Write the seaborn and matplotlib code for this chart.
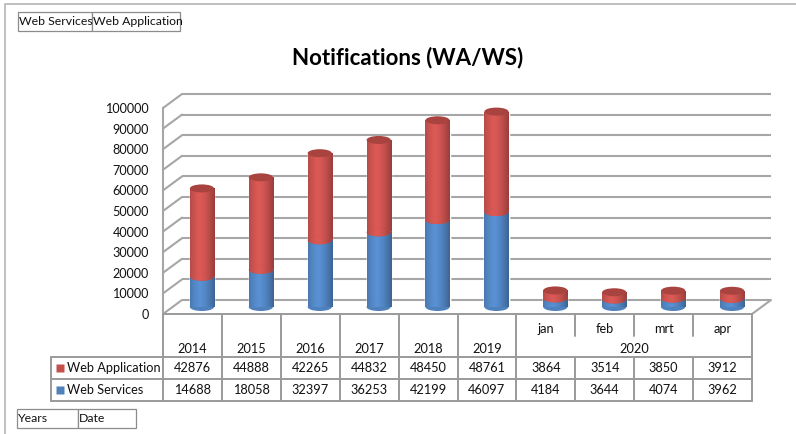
import numpy as np
import pandas as pd
import seaborn as sns
import matplotlib.pyplot as plt
from matplotlib.colors import to_rgb
from matplotlib.lines import Line2D
from matplotlib.patches import ConnectionPatch, Ellipse, Rectangle

# Data
periods = ["2014", "2015", "2016", "2017", "2018", "2019", "jan", "feb", "mrt", "apr"]
year_labels = ["2014", "2015", "2016", "2017", "2018", "2019"]
month_labels = ["jan", "feb", "mrt", "apr"]
web_application = [42876, 44888, 42265, 44832, 48450, 48761, 3864, 3514, 3850, 3912]
web_services = [14688, 18058, 32397, 36253, 42199, 46097, 4184, 3644, 4074, 3962]
y_ticks = list(range(0, 100001, 10000))

RED = "#C4504C"
BLUE = "#4F81BD"
RED_TOP = "#A9433F"
GRID = "#A6A6A6"
TABLE_LINE = "#9A9A9A"

sns.set_style("white")
plt.rcParams["font.family"] = ["Lato", "DejaVu Sans"]

W, H = 796, 434
fig = plt.figure(figsize=(W / 100, H / 100), dpi=100)


def box(x0, y0, x1, y1):
    # pixel box (from top-left) -> figure fraction
    return [x0 / W, 1 - y1 / H, (x1 - x0) / W, (y1 - y0) / H]


# three planes of the fake 3D plot area: back wall, front edge, middle (bars)
ax_back = fig.add_axes(box(182, 94, 771, 300), zorder=0)
ax_front = fig.add_axes(box(163, 108, 752, 314), zorder=1)
ax_mid = fig.add_axes(box(172.5, 101, 761.5, 307), zorder=2)
ax_tab = fig.add_axes(box(163, 314, 752, 401), zorder=3)

# back wall gridlines
ax_back.hlines(y_ticks, -0.5, 9.5, color=GRID, lw=1.5, clip_on=False)
ax_back.set_xlim(-0.5, 9.5)
ax_back.set_ylim(0, 100000)
ax_back.axis("off")

# front value axis
ax_front.set_xlim(-0.5, 9.5)
ax_front.set_ylim(0, 100000)
ax_front.patch.set_alpha(0)
for side in ["top", "right", "bottom"]:
    ax_front.spines[side].set_visible(False)
ax_front.spines["left"].set_color(GRID)
ax_front.spines["left"].set_linewidth(1.5)
ax_front.set_xticks([])
ax_front.set_yticks(y_ticks)
ax_front.set_yticklabels([str(v) for v in y_ticks])
ax_front.tick_params(axis="y", length=3, width=1.2, color=GRID, pad=7,
                     labelsize=9.1, labelcolor="#111111")

# left wall and right floor edge
for v in y_ticks:
    fig.add_artist(ConnectionPatch(xyA=(-0.5, v), coordsA=ax_front.transData,
                                   xyB=(-0.5, v), coordsB=ax_back.transData,
                                   color=GRID, lw=1.5))
fig.add_artist(ConnectionPatch(xyA=(9.5, 0), coordsA=ax_front.transData,
                               xyB=(9.5, 0), coordsB=ax_back.transData,
                               color=GRID, lw=1.5))

# cylinders
df = pd.DataFrame({"period": periods,
                   "total": [a + s for a, s in zip(web_application, web_services)],
                   "ws": web_services})
bar_w = 0.41
sns.barplot(data=df, x="period", y="total", color=RED, saturation=1,
            width=bar_w, ax=ax_mid, zorder=1)
sns.barplot(data=df, x="period", y="ws", color=BLUE, saturation=1,
            width=bar_w, ax=ax_mid, zorder=2)
red_bars = ax_mid.patches[:10]
blue_bars = ax_mid.patches[10:20]

ell_h = 8 * 100000 / 206  # ellipse height of ~8px in data units


def shade(patch, base, x0, x1, y0, y1, z):
    t = np.linspace(0, 1, 64)
    f = 1.12 - 0.75 * np.abs(t - 0.4) ** 1.5
    rgb = np.clip(np.array(to_rgb(base))[None, :] * f[:, None], 0, 1)[None, :, :]
    im = ax_mid.imshow(rgb, extent=(x0, x1, y0, y1), aspect="auto",
                       zorder=z, interpolation="bilinear")
    im.set_clip_path(patch)


for rb, bb, ws, tot in zip(red_bars, blue_bars, df["ws"], df["total"]):
    x0 = rb.get_x()
    x1 = x0 + rb.get_width()
    xc = (x0 + x1) / 2
    w = rb.get_width()
    rb.set_zorder(1)
    bb.set_zorder(2)
    shade(rb, RED, x0, x1, 0, tot, 1.1)
    shade(bb, BLUE, x0, x1, 0, ws, 2.1)
    bottom = Ellipse((xc, 0), w, ell_h, fc=BLUE, ec="none", zorder=2.2, clip_on=False)
    ax_mid.add_patch(bottom)
    shade(bottom, BLUE, x0, x1, -ell_h, ell_h, 2.3)
    seam = Ellipse((xc, ws), w, ell_h, fc=RED, ec="none", zorder=3)
    ax_mid.add_patch(seam)
    shade(seam, RED, x0, x1, ws - ell_h, ws + ell_h, 3.1)
    ax_mid.add_patch(Ellipse((xc, tot), w, ell_h, fc=RED_TOP, ec="none",
                             zorder=4, clip_on=False))

ax_mid.set_xlim(-0.5, 9.5)
ax_mid.set_ylim(0, 100000)
ax_mid.axis("off")

# data table below the plot
px = 1 / 58.9
leg_x = -0.5 - 112 * px
ax_tab.set_xlim(-0.5, 9.5)
ax_tab.set_ylim(87, 0)
ax_tab.axis("off")
kw = dict(color=TABLE_LINE, lw=1.4, clip_on=False)
ax_tab.plot([-0.5, 9.5], [0, 0], **kw)
for y in [43, 65, 87]:
    ax_tab.plot([leg_x, 9.5], [y, y], **kw)
ax_tab.plot([leg_x, leg_x], [43, 87], **kw)
for k in range(len(periods) + 1):
    xb = k - 0.5
    if 7 <= k <= 9:
        ax_tab.plot([xb, xb], [0, 22], **kw)
        ax_tab.plot([xb, xb], [43, 87], **kw)
    else:
        ax_tab.plot([xb, xb], [0, 87], **kw)

tkw = dict(ha="center", va="center", fontsize=9.2, color="#111111")
for i, lab in enumerate(year_labels):
    ax_tab.text(i, 35, lab, **tkw)
for j, lab in enumerate(month_labels):
    ax_tab.text(len(year_labels) + j, 15, lab, **tkw)
ax_tab.text(len(year_labels) + (len(month_labels) - 1) / 2, 35, "2020", **tkw)
for i, (a, s) in enumerate(zip(web_application, web_services)):
    ax_tab.text(i, 54, str(a), **tkw)
    ax_tab.text(i, 76, str(s), **tkw)

for y, name, col in [(54, "Web Application", RED), (76, "Web Services", BLUE)]:
    ax_tab.plot([-0.5 - 103 * px], [y], marker="s", ms=5.5, color=col,
                mec="none", clip_on=False)
    ax_tab.text(-0.5 - 96 * px, y, name, ha="left", va="center",
                fontsize=9.2, color="#111111")

# title
fig.text(408 / W, 1 - 58 / H, "Notifications (WA/WS)", ha="center", va="center",
         fontsize=16, fontweight="bold", color="#000000")

# outer frame
fig.add_artist(Line2D([5 / W, 5 / W, 1], [0, 1 - 4 / H, 1 - 4 / H],
                      color="#B5B5B5", lw=1.2))

# field buttons
for x0, x1, y0, y1, lab in [(18, 92, 12, 31, "Web Services"),
                            (92, 180, 12, 31, "Web Application"),
                            (17, 78, 409, 428, "Years"),
                            (78, 136, 409, 428, "Date")]:
    fig.add_artist(Rectangle((x0 / W, 1 - y1 / H), (x1 - x0) / W, (y1 - y0) / H,
                             transform=fig.transFigure, fc="white",
                             ec="#8C8C8C", lw=0.9))
    fig.text((x0 + 1) / W, 1 - (y0 + y1) / 2 / H, lab, ha="left", va="center",
             fontsize=8.8, color="#111111")

fig.savefig("out.png", dpi=100)
